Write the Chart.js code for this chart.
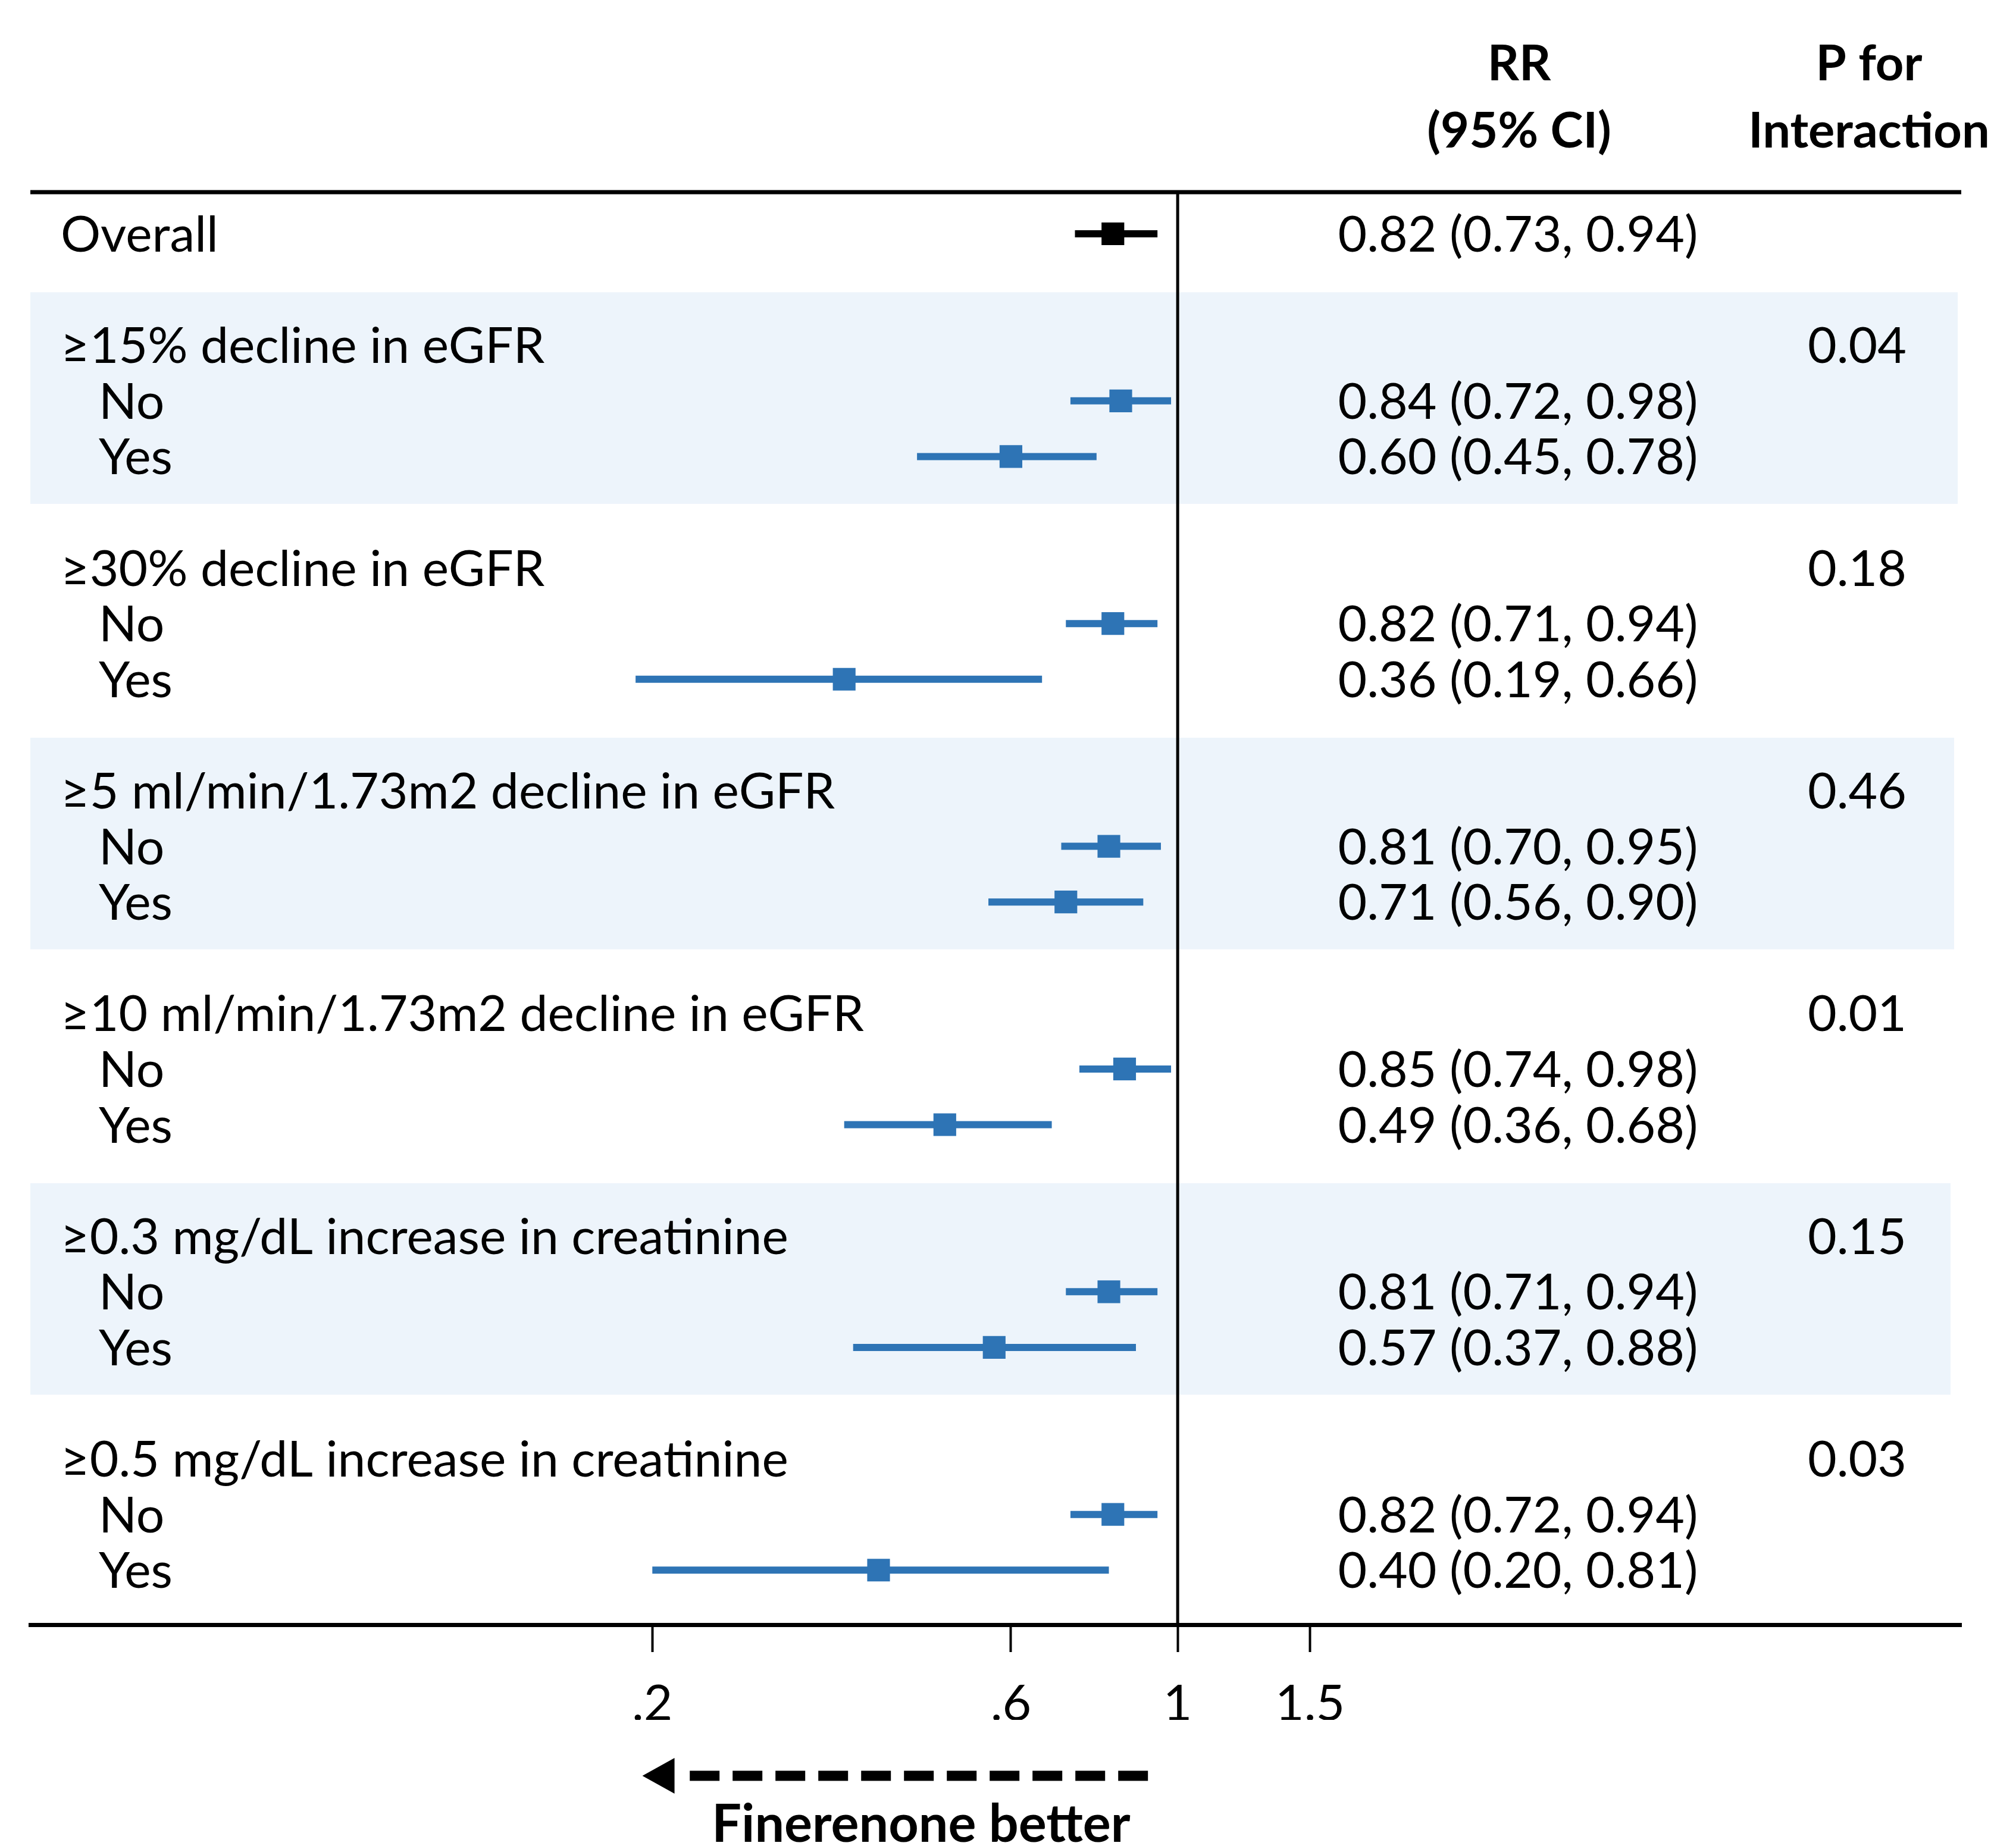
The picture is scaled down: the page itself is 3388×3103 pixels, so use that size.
<!DOCTYPE html>
<html>
<head>
<meta charset="utf-8">
<script src="https://cdn.jsdelivr.net/npm/chart.js@4.4.1/dist/chart.umd.min.js"></script>
<style>
  body { margin: 0; background: #fff; }
  canvas { display: block; }
</style>
</head>
<body>
<canvas id="forest" width="3388" height="3103"></canvas>
<script>
// subgroups (each one has a header row, then No / Yes)
var groups = [
  '≥15% decline in eGFR',
  '≥30% decline in eGFR',
  '≥5 ml/min/1.73m2 decline in eGFR',
  '≥10 ml/min/1.73m2 decline in eGFR',
  '≥0.3 mg/dL increase in creatinine',
  '≥0.5 mg/dL increase in creatinine'
];
var shaded = [true, false, true, false, true, false];
var pInteraction = ['0.04', '0.18', '0.46', '0.01', '0.15', '0.03'];

var overall = [0.82, 0.73, 0.94];   // rr, lo, hi

var rrNo  = [0.84, 0.82, 0.81, 0.85, 0.81, 0.82];
var loNo  = [0.72, 0.71, 0.70, 0.74, 0.71, 0.72];
var hiNo  = [0.98, 0.94, 0.95, 0.98, 0.94, 0.94];
var rrYes = [0.60, 0.36, 0.71, 0.49, 0.57, 0.40];
var loYes = [0.45, 0.19, 0.56, 0.36, 0.37, 0.20];
var hiYes = [0.78, 0.66, 0.90, 0.68, 0.88, 0.81];

var tickVals   = [0.2, 0.6, 1, 1.5];
var tickLabels = ['.2', '.6', '1', '1.5'];

var BLUE = '#2e74b5';
var BAND = '#edf4fb';
var FONT = 'Lato';

var groupRow = function(i) { return 2 + 4 * i };

var fmt = function(rr, lo, hi) {
  return rr.toFixed(2) + ' (' + lo.toFixed(2) + ', ' + hi.toFixed(2) + ')'
};

// collect plotted rows
var rows = [{y: 0, rr: overall[0], lo: overall[1], hi: overall[2], color: '#000'}];
groups.forEach(function(g, i) {
  rows.push({y: groupRow(i) + 1, rr: rrNo[i], lo: loNo[i], hi: hiNo[i], color: BLUE});
  rows.push({y: groupRow(i) + 2, rr: rrYes[i], lo: loYes[i], hi: hiYes[i], color: BLUE});
});

var Y_MIN = -0.748, Y_MAX = 24.98;

var datasets = [];
datasets.push({
  data: rows.map(function(r) { return {x: r.rr, y: r.y} }),
  pointStyle: 'rect',
  pointRadius: 27,
  pointBorderWidth: 0,
  pointBackgroundColor: rows.map(function(r) { return r.color }),
  order: 0
});
rows.forEach(function(r) {
  datasets.push({
    data: [{x: r.lo, y: r.y}, {x: r.hi, y: r.y}],
    showLine: true,
    borderColor: r.color,
    borderWidth: 12,
    borderCapStyle: 'butt',
    pointRadius: 0,
    order: 1
  });
});
// line of no effect
datasets.push({
  data: [{x: 1, y: Y_MIN}, {x: 1, y: Y_MAX}],
  showLine: true,
  borderColor: '#000',
  borderWidth: 5,
  pointRadius: 0,
  order: 2
});

var tablePlugin = {
  id: 'forestTable',
  beforeDraw: function(chart) {
    var ctx = chart.ctx, a = chart.chartArea, y = chart.scales.y;
    ctx.save();
    ctx.fillStyle = '#fff';
    ctx.fillRect(0, 0, chart.width, chart.height);
    ctx.fillStyle = BAND;
    groups.forEach(function(g, i) {
      if (!shaded[i]) return;
      var r = groupRow(i);
      var top = y.getPixelForValue(r - 0.95);
      var bot = y.getPixelForValue(r + 2.85);
      // the shaded boxes get a little shorter further down
      ctx.fillRect(a.left, top, a.right - a.left - 6 - 3 * i, bot - top);
    });
    ctx.restore();
  },
  afterDraw: function(chart) {
    var ctx = chart.ctx, a = chart.chartArea, x = chart.scales.x, y = chart.scales.y;
    ctx.save();

    // top rule
    ctx.strokeStyle = '#000';
    ctx.lineWidth = 7;
    ctx.beginPath();
    ctx.moveTo(a.left, a.top);
    ctx.lineTo(a.right, a.top);
    ctx.stroke();

    // column headers
    ctx.fillStyle = '#000';
    ctx.textAlign = 'center';
    ctx.textBaseline = 'alphabetic';
    ctx.font = 'bold 83px ' + FONT;
    ctx.fillText('RR', 2553, 135);
    ctx.fillText('(95% CI)', 2553, 248);
    ctx.fillText('P for', 3141, 135);
    ctx.fillText('Interaction', 3141, 248);

    // rows
    ctx.font = '84px ' + FONT;
    var base = function(r) { return y.getPixelForValue(r) + 30 };
    ctx.textAlign = 'left';
    ctx.fillText('Overall', 102, base(0));
    groups.forEach(function(g, i) {
      var r = groupRow(i);
      ctx.textAlign = 'left';
      ctx.fillText(g, 102, base(r));
      ctx.fillText('No', 166, base(r + 1));
      ctx.fillText('Yes', 166, base(r + 2));
      ctx.textAlign = 'center';
      ctx.fillText(pInteraction[i], 3121, base(r));
    });
    ctx.textAlign = 'center';
    rows.forEach(function(r) {
      ctx.fillText(fmt(r.rr, r.lo, r.hi), 2551, base(r.y));
    });

    // direction arrow
    var ay = 2985;
    var tip = x.getPixelForValue(0.194);
    var tail = x.getPixelForValue(0.913);
    ctx.lineWidth = 17;
    ctx.setLineDash([50, 22]);
    ctx.beginPath();
    ctx.moveTo(tail, ay);
    ctx.lineTo(tip + 60, ay);
    ctx.stroke();
    ctx.setLineDash([]);
    ctx.beginPath();
    ctx.moveTo(tip, ay);
    ctx.lineTo(tip + 54, ay - 30);
    ctx.lineTo(tip + 54, ay + 30);
    ctx.closePath();
    ctx.fill();

    ctx.font = 'bold 88px ' + FONT;
    ctx.textAlign = 'center';
    ctx.fillText('Finerenone better', 1548, 3096);
    ctx.restore();
  }
};

var forestChart = new Chart(document.getElementById('forest'), {
  type: 'scatter',
  data: { datasets: datasets },
  options: {
    responsive: false,
    devicePixelRatio: 1,
    animation: false,
    layout: { padding: { left: 51, right: 92, top: 323, bottom: 212 } },
    plugins: { legend: { display: false }, tooltip: { enabled: false } },
    scales: {
      x: {
        type: 'logarithmic',
        min: 0.02975,
        max: 11.03,
        bounds: 'data',
        afterBuildTicks: function(scale) {
          scale.ticks = tickVals.map(function(v) { return {value: v} });
        },
        afterFit: function(scale) { scale.height = 160 },
        ticks: {
          autoSkip: false,
          maxRotation: 0,
          padding: 38,
          color: '#000',
          font: { family: FONT, size: 84 },
          callback: function(v) { return tickLabels[tickVals.indexOf(v)] }
        },
        grid: { drawOnChartArea: false, drawTicks: true, tickLength: 46, tickWidth: 4, tickColor: '#000' },
        border: { display: true, color: '#000', width: 7 }
      },
      y: {
        type: 'linear',
        reverse: true,
        min: Y_MIN,
        max: Y_MAX,
        display: false
      }
    }
  },
  plugins: [tablePlugin]
});
</script>
</body>
</html>
